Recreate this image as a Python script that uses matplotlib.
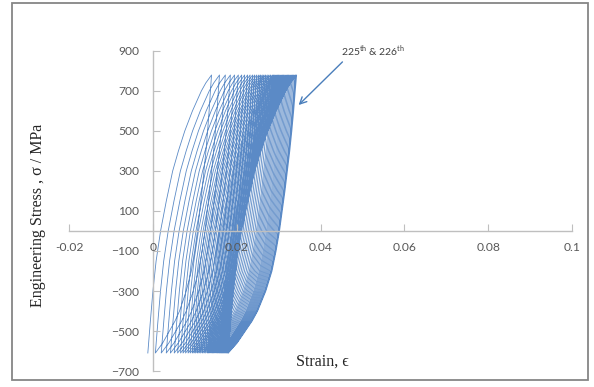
import matplotlib
matplotlib.use("Agg")
import matplotlib.pyplot as plt
from matplotlib.patches import Rectangle

plt.rcParams['mathtext.fontset'] = 'custom'
plt.rcParams['mathtext.rm'] = 'Lato'

# peak / valley strain of each plotted cycle
peaks = [0.0140, 0.0159, 0.0173, 0.0185, 0.0195, 0.0204, 0.0212, 0.0219, 0.0226, 0.0232,
         0.0238, 0.0243, 0.0248, 0.0253, 0.0257, 0.0261, 0.0265, 0.0269, 0.0273, 0.0277,
         0.0281, 0.0285, 0.0288, 0.0291, 0.0294, 0.0297, 0.0300, 0.0303, 0.0306, 0.0309,
         0.0312, 0.0315, 0.0318, 0.0321, 0.0324, 0.0327, 0.0330, 0.0333, 0.0336, 0.0339,
         0.0341, 0.0343]
valleys = [-0.0012, 0.0006, 0.0020, 0.0032, 0.0042, 0.0051, 0.0059, 0.0066, 0.0072, 0.0078,
           0.0084, 0.0089, 0.0094, 0.0098, 0.0102, 0.0106, 0.0110, 0.0114, 0.0118, 0.0122,
           0.0126, 0.0130, 0.0133, 0.0136, 0.0139, 0.0142, 0.0145, 0.0148, 0.0151, 0.0154,
           0.0157, 0.0159, 0.0161, 0.0163, 0.0165, 0.0167, 0.0169, 0.0171, 0.0173, 0.0175,
           0.0177, 0.0179, 0.0180]

# branch shape: stress levels and fraction of the strain span covered
load_stress = [-610, -530, -450, -300, -150, 0, 150, 300, 400, 500, 600, 650, 700, 740, 780]
load_frac = [0.0, 0.02, 0.04, 0.08, 0.13, 0.20, 0.29, 0.39, 0.48, 0.58, 0.70, 0.77, 0.84, 0.91, 1.0]
unload_stress = [780, 700, 600, 500, 400, 300, 200, 100, 0, -100, -200, -300, -400, -450, -500, -560, -610]
unload_frac = [0.0, 0.02, 0.043, 0.07, 0.10, 0.135, 0.17, 0.21, 0.25, 0.30, 0.36, 0.45, 0.57, 0.65, 0.75, 0.87, 1.0]

xticks = [-0.02, 0, 0.02, 0.04, 0.06, 0.08, 0.1]
xticklabels = ["-0.02", "0", "0.02", "0.04", "0.06", "0.08", "0.1"]
yticks = [-700, -500, -300, -100, 100, 300, 500, 700, 900]

eps, sig = [], []
for i in range(len(peaks)):
    lo, hi, nxt = valleys[i], peaks[i], valleys[i + 1]
    eps += [lo + f * (hi - lo) for f in load_frac]
    sig += load_stress
    eps += [hi - f * (hi - nxt) for f in unload_frac]
    sig += unload_stress

fig = plt.figure(figsize=(5.94, 3.87), dpi=100)
ax = fig.add_axes([0.1162, 0.0413, 0.8468, 0.827])
ax.plot(eps, sig, color="#5B8AC6", lw=0.6)
ax.set_axisbelow(False)

ax.set_xlim(-0.02, 0.1)
ax.set_ylim(-700, 900)
ax.set_xticks(xticks)
ax.set_xticklabels(xticklabels)
ax.set_yticks(yticks)

for s in ["top", "right"]:
    ax.spines[s].set_visible(False)
ax.spines["left"].set_position(("data", 0))
ax.spines["bottom"].set_position(("data", 0))
for s in ["left", "bottom"]:
    ax.spines[s].set_color("#BFBFBF")
    ax.spines[s].set_linewidth(1.0)
ax.tick_params(axis="both", direction="in", length=5, color="#BFBFBF",
               labelsize=8.7, labelcolor="#595959")
ax.tick_params(axis="y", pad=10)
ax.tick_params(axis="x", pad=8)
for lab in ax.get_xticklabels() + ax.get_yticklabels():
    lab.set_fontfamily("Lato")

serif = ["Liberation Serif", "DejaVu Serif"]
fig.text(0.064, 0.444, "Engineering Stress , σ / MPa", rotation=90, ha="center",
         va="center", fontsize=11.5, family=serif, color="#262626")
fig.text(0.542, 0.0646, "Strain, ϵ", ha="center", va="center", fontsize=11.5,
         family=serif, color="#262626")

ax.text(0.0526, 900, r"225$^{\mathrm{th}}$ & 226$^{\mathrm{th}}$", ha="center", va="center",
        fontsize=7.5, family="Lato", color="#404040")
ax.annotate("", xy=(0.0343, 620), xytext=(0.0457, 855),
            arrowprops=dict(arrowstyle="->", color="#4A7EBB", lw=1.0, mutation_scale=12))

fig.patches.append(Rectangle((12 / 594, 1 - 380 / 387), 576 / 594, 377 / 387,
                             transform=fig.transFigure, fill=False,
                             edgecolor="#868686", lw=1.3))

fig.savefig("out.png", dpi=100)
